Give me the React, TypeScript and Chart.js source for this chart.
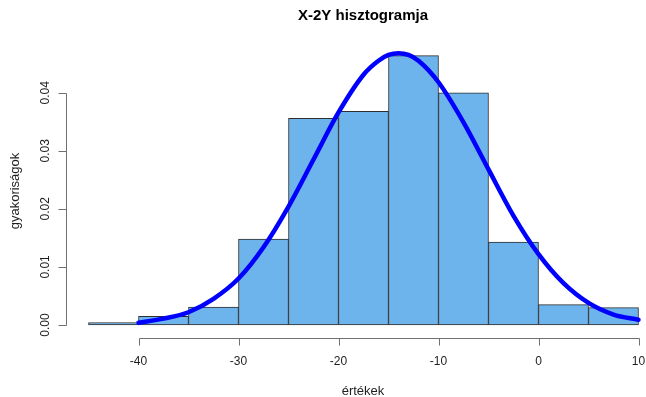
import React, { useEffect, useRef } from "react";
import { Chart, registerables } from "chart.js";

Chart.register(...registerables);

// Histogram bins (centers of 5-wide bins from -45 to 10) and densities
const binCenters = [-42.5, -37.5, -32.5, -27.5, -22.5, -17.5, -12.5, -7.5, -2.5, 2.5, 7.5];
const densities = [0.0004, 0.0015, 0.0031, 0.0148, 0.0356, 0.0368, 0.0464, 0.04, 0.0143, 0.0035, 0.003];

// Density curve points
const curveX = [-40, -37.5, -35, -32.5, -30, -27.5, -25, -22.5, -20, -17.5, -16, -15, -14, -13, -12, -10, -7.5, -5, -2.5, 0, 2.5, 5, 7.5, 10];
const curveY = [0.0004, 0.0011, 0.0022, 0.0045, 0.008, 0.0134, 0.0204, 0.0285, 0.0366, 0.0431, 0.0455, 0.0465, 0.0468, 0.0465, 0.0455, 0.0418, 0.0349, 0.0268, 0.0188, 0.0122, 0.0072, 0.0038, 0.0018, 0.0009];

const xTicks = [-40, -30, -20, -10, 0, 10];
const xTickLabels = ["-40", "-30", "-20", "-10", "0", "10"];
const yTicks = [0, 0.01, 0.02, 0.03, 0.04];
const yTickLabels = ["0.00", "0.01", "0.02", "0.03", "0.04"];

const titleText = "X-2Y hisztogramja";
const xTitle = "értékek";
const yTitle = "gyakoriságok";

const FONT = '"Liberation Sans", Arial, sans-serif';
const AXIS_COLOR = "#707070";
const TEXT_COLOR = "#1e1e1e";

const rAxesPlugin = {
  id: "rAxes",
  afterDraw(chart: any) {
    const ctx = chart.ctx as CanvasRenderingContext2D;
    const xs = chart.scales.x;
    const ys = chart.scales.y;
    const area = chart.chartArea;
    ctx.save();
    ctx.strokeStyle = AXIS_COLOR;
    ctx.lineWidth = 1;
    ctx.fillStyle = TEXT_COLOR;

    // Y axis
    const yAxisX = Math.round(area.left) - 0.5;
    const y0 = ys.getPixelForValue(yTicks[0]);
    const y1 = ys.getPixelForValue(yTicks[yTicks.length - 1]);
    ctx.beginPath();
    ctx.moveTo(yAxisX, Math.round(y0) + 0.5);
    ctx.lineTo(yAxisX, Math.round(y1) + 0.5);
    yTicks.forEach((t) => {
      const py = Math.round(ys.getPixelForValue(t)) + 0.5;
      ctx.moveTo(yAxisX, py);
      ctx.lineTo(yAxisX - 8, py);
    });
    ctx.stroke();
    ctx.font = `12px ${FONT}`;
    ctx.textAlign = "center";
    ctx.textBaseline = "alphabetic";
    yTicks.forEach((t, i) => {
      const py = ys.getPixelForValue(t);
      ctx.save();
      ctx.translate(49, py);
      ctx.rotate(-Math.PI / 2);
      ctx.fillText(yTickLabels[i], 0, 0);
      ctx.restore();
    });

    // X axis
    const xAxisY = Math.round(area.bottom) + 0.5;
    const xa = Math.round(xs.getPixelForValue(xTicks[0])) + 0.5;
    const xb = Math.round(xs.getPixelForValue(xTicks[xTicks.length - 1])) + 0.5;
    ctx.beginPath();
    ctx.moveTo(xa, xAxisY);
    ctx.lineTo(xb, xAxisY);
    xTicks.forEach((t) => {
      const px = Math.round(xs.getPixelForValue(t)) + 0.5;
      ctx.moveTo(px, xAxisY);
      ctx.lineTo(px, xAxisY + 7);
    });
    ctx.stroke();
    xTicks.forEach((t, i) => {
      const px = xs.getPixelForValue(t);
      ctx.fillText(xTickLabels[i], px, 365);
    });

    // Axis titles
    ctx.font = `13px ${FONT}`;
    ctx.fillText(xTitle, 363, 394.5);
    ctx.save();
    ctx.translate(19, 191);
    ctx.rotate(-Math.PI / 2);
    ctx.fillText(yTitle, 0, 0);
    ctx.restore();

    // Main title
    ctx.font = `bold 15px ${FONT}`;
    ctx.fillStyle = "#000";
    ctx.fillText(titleText, 363, 19.5);
    ctx.restore();
  },
};

export default function App() {
  const canvasRef = useRef<HTMLCanvasElement | null>(null);

  useEffect(() => {
    if (!canvasRef.current) return;
    const chart = new Chart(canvasRef.current, {
      type: "bar",
      data: {
        datasets: [
          {
            type: "line",
            data: curveX.map((x, i) => ({ x, y: curveY[i] })),
            borderColor: "#0000ff",
            borderWidth: 4.5,
            borderCapStyle: "round",
            borderJoinStyle: "round",
            pointRadius: 0,
            cubicInterpolationMode: "monotone",
            fill: false,
          } as any,
          {
            type: "bar",
            data: binCenters.map((x, i) => ({ x, y: densities[i] })),
            backgroundColor: "#6db4ec",
            borderColor: "#2e2e2e",
            borderWidth: 1,
            borderSkipped: false,
            barPercentage: 1,
            categoryPercentage: 1,
          } as any,
        ],
      },
      options: {
        animation: false,
        responsive: true,
        maintainAspectRatio: false,
        layout: { padding: { left: 66.5, right: 0, top: 42.2, bottom: 59.3 } },
        plugins: { legend: { display: false }, tooltip: { enabled: false } },
        scales: {
          x: { type: "linear", min: -47.2, max: 10.75, offset: false, display: false },
          y: { type: "linear", min: -0.002187, max: 0.0487, display: false },
        },
      },
      plugins: [rAxesPlugin],
    });
    return () => chart.destroy();
  }, []);

  return (
    <div style={{ position: "absolute", left: 0, top: 0, width: 646, height: 397, background: "#fff" }}>
      <canvas ref={canvasRef} />
    </div>
  );
}
